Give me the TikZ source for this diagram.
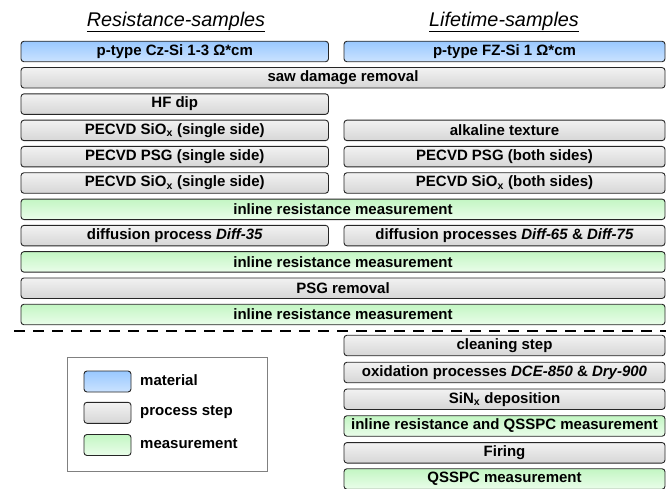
\documentclass[tikz,border=0pt]{standalone}
\usepackage{fontspec}
\setmainfont{Liberation Sans}
\definecolor{bluetop}{HTML}{99C8FF}
\definecolor{bluebot}{HTML}{CBE3FF}
\definecolor{graytop}{HTML}{F2F2F2}
\definecolor{graybot}{HTML}{D6D6D6}
\definecolor{greentop}{HTML}{C3F6C3}
\definecolor{greenbot}{HTML}{EAFDEA}
\definecolor{edge}{HTML}{262626}
\begin{document}
\begin{tikzpicture}[x=1pt,y=-1pt,
  box/.style={draw=edge, line width=0.9pt, rounded corners=3pt, minimum height=20.5pt,
    inner sep=0pt, font=\fontsize{15}{17}\selectfont\bfseries},
  matbox/.style={box, top color=bluetop, bottom color=bluebot},
  procbox/.style={box, top color=graytop, bottom color=graybot},
  measbox/.style={box, top color=greentop, bottom color=greenbot},
  leftcol/.style={minimum width=307.5pt},
  rightcol/.style={minimum width=321pt},
  fullcol/.style={minimum width=644pt},
  swatch/.style={minimum width=47pt, minimum height=21pt},
  legtext/.style={anchor=west, inner sep=0pt, font=\fontsize{15}{17}\selectfont\bfseries},
  title/.style={font=\fontsize{19.8}{22}\selectfont\itshape, inner sep=0pt}]
\useasboundingbox (0,0) rectangle (666,489);

% titles
\node[title] (t1) at (176,22) {\underline{Resistance-samples}};
\node[title] (t2) at (504,22) {\underline{Lifetime-samples}};

% upper part
\node[matbox,leftcol] (l1) at (174.75,51.5) {p-type Cz-Si 1-3 Ω*cm};
\node[matbox,rightcol] (r1) at (504.5,51.5) {p-type FZ-Si 1 Ω*cm};
\node[procbox,fullcol] (f2) at (343,77.8) {saw damage removal};
\node[procbox,leftcol] (l3) at (174.75,104.1) {HF dip};
\node[procbox,leftcol] (l4) at (174.75,130.4) {PECVD SiO\textsubscript{x} (single side)};
\node[procbox,rightcol] (r4) at (504.5,130.4) {alkaline texture};
\node[procbox,leftcol] (l5) at (174.75,156.7) {PECVD PSG (single side)};
\node[procbox,rightcol] (r5) at (504.5,156.7) {PECVD PSG (both sides)};
\node[procbox,leftcol] (l6) at (174.75,183) {PECVD SiO\textsubscript{x} (single side)};
\node[procbox,rightcol] (r6) at (504.5,183) {PECVD SiO\textsubscript{x} (both sides)};
\node[measbox,fullcol] (f7) at (343,209.3) {inline resistance measurement};
\node[procbox,leftcol] (l8) at (174.75,235.6) {diffusion process \textit{Diff-35}};
\node[procbox,rightcol] (r8) at (504.5,235.6) {diffusion processes \textit{Diff-65} \& \textit{Diff-75}};
\node[measbox,fullcol] (f9) at (343,261.9) {inline resistance measurement};
\node[procbox,fullcol] (f10) at (343,288.2) {PSG removal};
\node[measbox,fullcol] (f11) at (343,314.5) {inline resistance measurement};

% separator
\coordinate (sepA) at (14,331);
\coordinate (sepB) at (666,331);
\draw[line width=2.5pt, dash pattern=on 11pt off 8pt] (sepA) -- (sepB);

% lower right part
\node[procbox,rightcol] (r12) at (504.5,345.5) {cleaning step};
\node[procbox,rightcol] (r13) at (504.5,372.5) {oxidation processes \textit{DCE-850} \& \textit{Dry-900}};
\node[procbox,rightcol] (r14) at (504.5,399.2) {SiN\textsubscript{x} deposition};
\node[measbox,rightcol] (r15) at (504.5,426) {inline resistance and QSSPC measurement};
\node[procbox,rightcol] (r16) at (504.5,452.8) {Firing};
\node[measbox,rightcol] (r17) at (504.5,479) {QSSPC measurement};

% legend
\node[draw=black!50, line width=1pt, minimum width=200pt, minimum height=114pt, inner sep=0pt] (leg) at (167,414) {};
\node[matbox,swatch] (s1) at (107.5,381.5) {};
\node[procbox,swatch] (s2) at (107.5,412.8) {};
\node[measbox,swatch] (s3) at (107.5,445) {};
\node[legtext] (lt1) at (140,380.5) {material};
\node[legtext] (lt2) at (140,412) {process step};
\node[legtext] (lt3) at (140,444) {measurement};
\end{tikzpicture}
\end{document}
